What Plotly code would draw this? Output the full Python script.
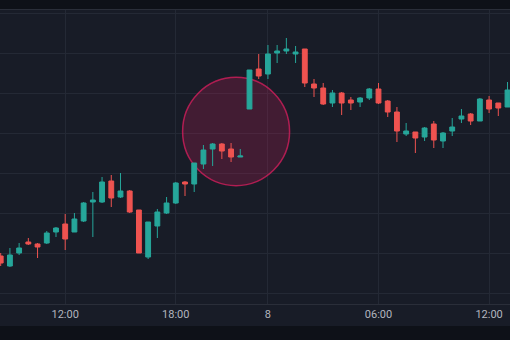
import plotly.graph_objects as go

times = [
    "07 08:30", "07 09:00", "07 09:30", "07 10:00", "07 10:30", "07 11:00", "07 11:30",
    "07 12:00", "07 12:30", "07 13:00", "07 13:30", "07 14:00", "07 14:30", "07 15:00",
    "07 15:30", "07 16:00", "07 16:30", "07 17:00", "07 17:30", "07 18:00", "07 18:30",
    "07 19:00", "07 19:30", "07 20:00", "07 20:30", "07 21:00", "07 22:30", "07 23:00",
    "07 23:30", "08 00:00", "08 00:30", "08 01:00", "08 01:30", "08 02:00", "08 02:30",
    "08 03:00", "08 03:30", "08 04:00", "08 04:30", "08 05:00", "08 05:30", "08 06:00",
    "08 06:30", "08 07:00", "08 07:30", "08 08:00", "08 08:30", "08 09:00", "08 09:30",
    "08 10:00", "08 10:30", "08 11:00", "08 11:30", "08 12:00", "08 12:30", "08 13:00",
]

open_ = [48, 38, 51, 62, 60, 61, 72, 80, 72, 83, 102, 102, 123, 107, 113, 94, 47, 78, 91, 101,
         122, 120, 140, 155, 160, 155, 147, 195, 235, 230, 251, 253, 250, 255, 220, 216, 201, 211,
         204, 202, 206, 215, 203, 192, 170, 172, 167, 180, 163, 173, 185, 190, 183, 204, 201, 197]
high = [51, 56, 61, 66, 61, 73, 77, 90, 91, 102, 112, 127, 129, 131, 114, 94, 82, 95, 107, 122,
        123, 141, 159, 161, 161, 161, 155, 234, 250, 259, 259, 266, 258, 255, 225, 221, 214, 212,
        207, 207, 216, 221, 204, 197, 181, 172, 177, 183, 172, 186, 195, 191, 206, 208, 201, 222]
low = [38, 37, 49, 59, 46, 60, 67, 54, 72, 82, 67, 101, 97, 106, 91, 51, 45, 66, 90, 100,
       108, 112, 135, 138, 145, 142, 147, 195, 225, 225, 241, 250, 241, 217, 207, 199, 197, 189,
       194, 197, 204, 200, 187, 162, 168, 151, 163, 156, 156, 168, 181, 179, 183, 191, 188, 197]
close = [41, 49, 56, 60, 57, 71, 76, 65, 85, 101, 104, 122, 106, 113, 92, 51, 82, 92, 101, 121,
         120, 141, 154, 160, 153, 147, 148, 234, 228, 250, 253, 255, 252, 221, 216, 200, 211, 201,
         201, 206, 215, 201, 192, 173, 173, 166, 176, 164, 171, 177, 188, 183, 205, 195, 196, 214]

tick_vals = ["07 12:00", "07 18:00", "08 00:00", "08 06:00", "08 12:00"]
tick_text = ["12:00", "18:00", "8", "06:00", "12:00"]

UP = "#26a69a"
DOWN = "#ef5350"
BG = "#181c27"
GRID = "#242935"

fig = go.Figure(go.Candlestick(
    x=times, open=open_, high=high, low=low, close=close,
    increasing=dict(line=dict(color=UP, width=1), fillcolor=UP),
    decreasing=dict(line=dict(color=DOWN, width=1), fillcolor=DOWN),
    whiskerwidth=0,
    hoverinfo="skip",
))

fig.update_layout(
    width=510, height=340,
    margin=dict(l=0, r=0, t=10, b=36),
    paper_bgcolor=BG, plot_bgcolor=BG,
    showlegend=False,
    boxgap=0.25,
    font=dict(family="Roboto", size=11, color="#b2b5be"),
    xaxis=dict(
        type="category",
        range=[-0.076, 55.27],
        rangeslider=dict(visible=False),
        tickmode="array", tickvals=tick_vals, ticktext=tick_text,
        showgrid=True, gridcolor=GRID, gridwidth=1,
        showline=True, mirror=True, linecolor="#2a2e39", linewidth=1,
        ticks="", zeroline=False, tickangle=0,
    ),
    yaxis=dict(
        range=[0, 294],
        tickmode="linear", tick0=11, dtick=40,
        showgrid=True, gridcolor=GRID, gridwidth=1,
        showticklabels=False, zeroline=False, ticks="",
    ),
    shapes=[
        dict(type="rect", xref="paper", yref="paper", x0=0, x1=1, y0=1.0, y1=1.04,
             fillcolor="#0e1118", line=dict(width=0), layer="below"),
        dict(type="rect", xref="paper", yref="paper", x0=0, x1=1, y0=-0.0748, y1=-0.13,
             fillcolor="#0e1118", line=dict(width=0), layer="below"),
        dict(type="circle", xref="x", yref="y", x0=19.74, x1=31.35, y0=118.3, y1=226.7,
             fillcolor="rgba(233,30,99,0.2)",
             line=dict(color="rgba(233,30,99,0.7)", width=1.5), layer="between"),
    ],
)

fig.write_html("out.html")
